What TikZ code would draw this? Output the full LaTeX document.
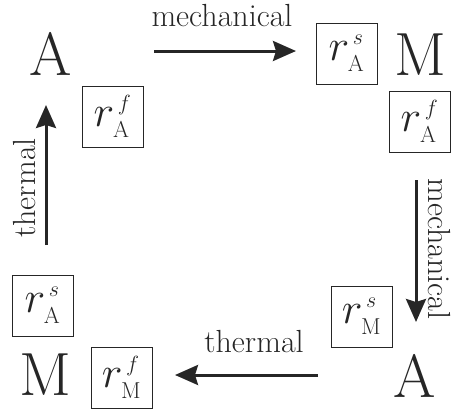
\RequirePackage{fix-cm}
\documentclass[tikz,border=0pt]{standalone}
\usetikzlibrary{arrows.meta}
\definecolor{ink}{HTML}{262626}
\newcommand{\rlab}[2]{%
  {\fontsize{44}{44}\selectfont$r^{\hbox{\fontsize{22}{22}\selectfont$\,#1$}}_{\hbox{\fontsize{23}{23}\selectfont\rm #2}}$}}
\begin{document}
\begin{tikzpicture}[x=1pt,y=-1pt,
  big/.style={inner sep=0pt,anchor=base,text=ink,font=\fontsize{61}{61}\selectfont},
  lab/.style={inner sep=0pt,anchor=base,text=ink,font=\fontsize{32}{32}\selectfont},
  rbox/.style={draw=ink,line width=0.8pt,minimum width=61pt,minimum height=61pt,inner sep=0pt,text=ink},
  arr/.style={draw=ink,line width=3pt,-{Stealth[length=23pt,width=20pt,inset=3pt]}}]
\useasboundingbox (0,0) rectangle (453,410);
% big letters
\node[big] (A1) at (51,75) {A};
\node[big] (M1) at (420,75) {M};
\node[big] (A2) at (415,397) {A};
\node[big] (M2) at (45,395) {M};
% boxes
\node[rbox] (b1) at (112.5,116.5) {\rlab{f}{A}};
\node[rbox] (b2) at (346.5,53.5) {\rlab{s}{A}};
\node[rbox] (b3) at (419.5,121.5) {\rlab{f}{A}};
\node[rbox] (b4) at (361.5,316.5) {\rlab{s}{M}};
\node[rbox] (b5) at (121.5,377.5) {\rlab{f}{M}};
\node[rbox] (b6) at (42.5,305.5) {\rlab{s}{A}};
% arrow ends
\coordinate (t1) at (154,51);
\coordinate (t2) at (296,51);
\coordinate (r1) at (416,180);
\coordinate (r2) at (416,322);
\coordinate (d1) at (318,375);
\coordinate (d2) at (175,375);
\coordinate (l1) at (46,245);
\coordinate (l2) at (46,105);
\draw[arr] (t1) -- (t2);
\draw[arr] (r1) -- (r2);
\draw[arr] (d1) -- (d2);
\draw[arr] (l1) -- (l2);
% labels
\node[lab] (lt) at (222,26) {mechanical};
\node[lab] (ld) at (254,352) {thermal};
\node[lab,rotate=90] (ll) at (35,188) {thermal};
\node[lab,rotate=-90] (lr) at (428,249) {mechanical};
\end{tikzpicture}
\end{document}
